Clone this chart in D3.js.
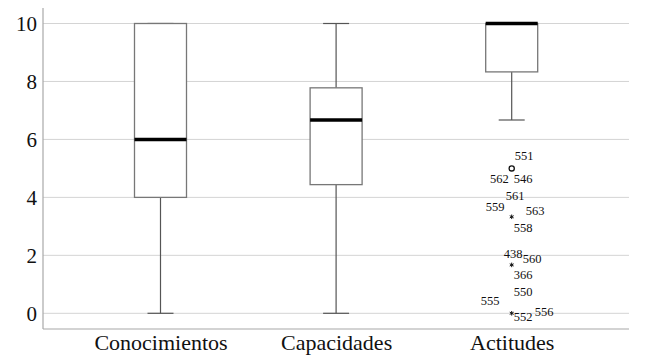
<!DOCTYPE html>
<html><head><meta charset="utf-8">
<script src="https://cdn.jsdelivr.net/npm/d3@7/dist/d3.min.js"></script>
<style>body{margin:0;background:#fff}svg{display:block}
svg text{font-family:"Liberation Serif","Times New Roman",serif !important;}</style>
</head><body>
<svg id="c" width="648" height="356"></svg>
<script>
const categories = ["Conocimientos", "Capacidades", "Actitudes"];
const minVals    = [0, 0, 6.67];
const q1Vals     = [4, 4.44, 8.33];
const medianVals = [6, 6.67, 10];
const q3Vals     = [10, 7.78, 10];
const maxVals    = [10, 10, 10];
const yTicks     = [0, 2, 4, 6, 8, 10];
// outliers of "Actitudes": value, kind (o = outlier, * = extreme), case labels
const outlierValues = [5, 3.33, 1.67, 0];
const outlierKinds  = ["o", "*", "*", "*"];
const outlierLabels = [["551","562","546"],["561","559","563","558"],["438","560","366"],["550","555","552","556"]];

// layout of case labels around each marker (pixel offsets)
const labelOffsets = [
  [[3,-8,"start"],[-3,15,"end"],[2,15,"start"]],
  [[-6,-17,"start"],[-26,-6,"start"],[14,-2,"start"],[2,15,"start"]],
  [[-8,-7,"start"],[11,-2,"start"],[2,14,"start"]],
  [[2,-17,"start"],[-31,-8,"start"],[2,8,"start"],[23,3,"start"]]
];

const svg = d3.select("#c");
const mLeft = 43, mRight = 629, mTop = 8, mBottom = 329;
const y = d3.scaleLinear().domain([0, 10]).range([313.3, 23.5]);
const x = d3.scalePoint().domain(categories).range([160.5, 511.7]);
const boxW = 52, capW = 26;

// gridlines
svg.append("g").selectAll("line").data(yTicks).join("line")
  .attr("x1", mLeft).attr("x2", mRight)
  .attr("y1", d => y(d)).attr("y2", d => y(d))
  .attr("stroke", "#d4d4d4").attr("stroke-width", 1);

// axes
const yAxis = svg.append("g").attr("transform", `translate(${mLeft},0)`)
  .call(d3.axisLeft(y).tickValues(yTicks).tickSize(0).tickPadding(6).tickFormat(d3.format("d")));
yAxis.select(".domain").remove();
yAxis.selectAll("text").style("font-size", "21px").attr("fill", "#111");
svg.append("line").attr("x1", mLeft).attr("x2", mLeft).attr("y1", mTop).attr("y2", mBottom)
  .attr("stroke", "#a8a8a8").attr("stroke-width", 1.2);

const xAxis = svg.append("g").attr("transform", `translate(0,${mBottom})`)
  .call(d3.axisBottom(x).tickSize(0).tickPadding(5));
xAxis.select(".domain").remove();
xAxis.selectAll("text").style("font-size", "22px").attr("fill", "#111");
svg.append("line").attr("x1", mLeft).attr("x2", mRight).attr("y1", mBottom).attr("y2", mBottom)
  .attr("stroke", "#a8a8a8").attr("stroke-width", 1.2);

// boxes
const data = categories.map((c, i) => ({c, mn: minVals[i], q1: q1Vals[i], md: medianVals[i], q3: q3Vals[i], mx: maxVals[i]}));
const g = svg.append("g").selectAll("g").data(data).join("g");
g.append("line").attr("x1", d => x(d.c)).attr("x2", d => x(d.c))
  .attr("y1", d => y(d.q1)).attr("y2", d => y(d.mn)).attr("stroke", "#555").attr("stroke-width", 1.2);
g.append("line").attr("x1", d => x(d.c)).attr("x2", d => x(d.c))
  .attr("y1", d => y(d.q3)).attr("y2", d => y(d.mx)).attr("stroke", "#555").attr("stroke-width", 1.2);
g.append("line").attr("x1", d => x(d.c) - capW/2).attr("x2", d => x(d.c) + capW/2)
  .attr("y1", d => y(d.mn)).attr("y2", d => y(d.mn)).attr("stroke", "#555").attr("stroke-width", 1.2);
g.append("line").attr("x1", d => x(d.c) - capW/2).attr("x2", d => x(d.c) + capW/2)
  .attr("y1", d => y(d.mx)).attr("y2", d => y(d.mx)).attr("stroke", "#555").attr("stroke-width", 1.2);
g.append("rect").attr("x", d => x(d.c) - boxW/2).attr("width", boxW)
  .attr("y", d => y(d.q3)).attr("height", d => y(d.q1) - y(d.q3))
  .attr("fill", "#fff").attr("stroke", "#777").attr("stroke-width", 1.3);
g.append("line").attr("x1", d => x(d.c) - boxW/2).attr("x2", d => x(d.c) + boxW/2)
  .attr("y1", d => y(d.md)).attr("y2", d => y(d.md)).attr("stroke", "#000").attr("stroke-width", 3.5);

// outliers
const ox = x("Actitudes");
outlierValues.forEach((v, i) => {
  const py = y(v);
  if (outlierKinds[i] === "o") {
    svg.append("circle").attr("cx", ox).attr("cy", py).attr("r", 2.6)
      .attr("fill", "none").attr("stroke", "#111").attr("stroke-width", 1.3);
  } else {
    svg.append("path").attr("d", d3.symbol(d3.symbolAsterisk, 14)())
      .attr("transform", `translate(${ox},${py})`).attr("stroke", "#111").attr("stroke-width", 1).attr("fill", "none");
  }
  outlierLabels[i].forEach((lab, j) => {
    const [dx, dy, anchor] = labelOffsets[i][j];
    svg.append("text").attr("x", ox + dx).attr("y", py + dy).attr("text-anchor", anchor)
      .style("font-size", "12.5px").attr("fill", "#111").text(lab);
  });
});
</script>
</body></html>
